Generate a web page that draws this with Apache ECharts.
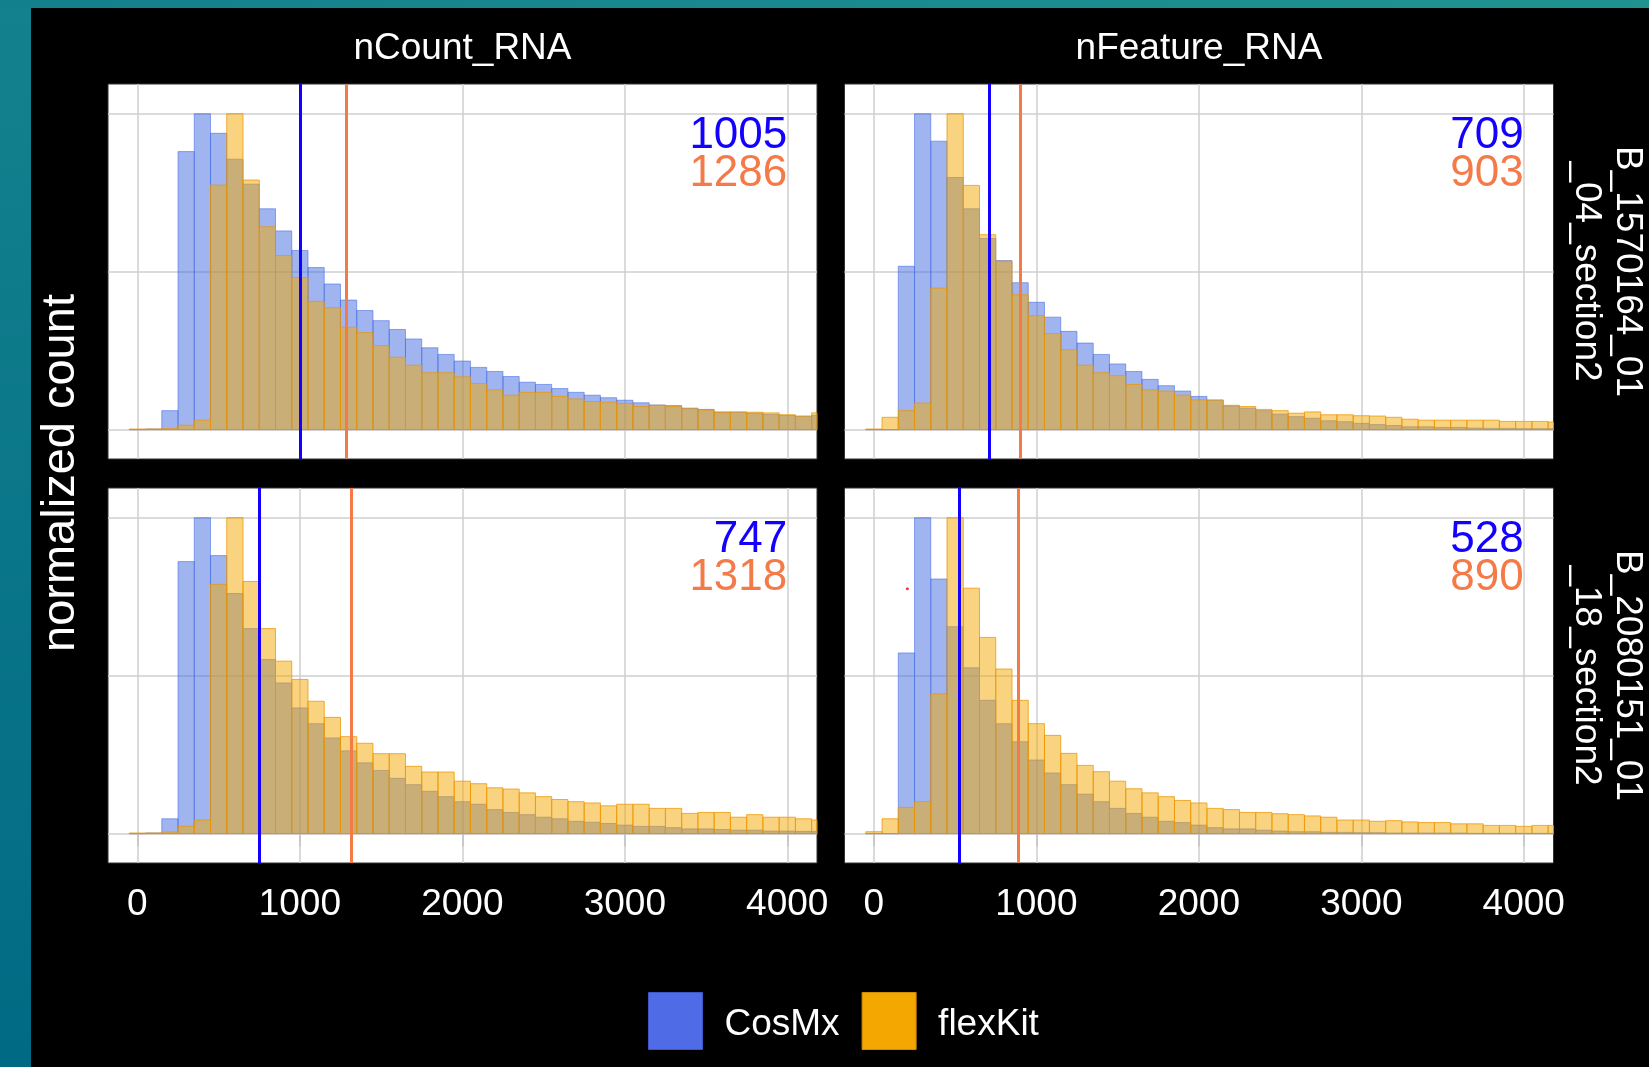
<!DOCTYPE html>
<html>
<head>
<meta charset="utf-8">
<title>nCount / nFeature histograms</title>
<script src="https://cdn.jsdelivr.net/npm/echarts@6/dist/echarts.min.js"></script>
<style>
html, body { margin: 0; padding: 0; background: #000; overflow: hidden; }
#edgeLeft { position: absolute; left: 0; top: 0; width: 31px; height: 1067px;
  background: linear-gradient(to bottom, #14828e, #006a84); }
#edgeTop { position: absolute; left: 0; top: 0; width: 1649px; height: 8px;
  background: linear-gradient(to right, #13808d, #1f9390); }
#main { position: absolute; left: 0; top: 0; width: 1649px; height: 1067px; }
</style>
</head>
<body>
<div id="edgeLeft"></div>
<div id="edgeTop"></div>
<div id="main"></div>
<script>
var chartDom = document.getElementById('main');
var myChart = echarts.init(chartDom);
var option;

// bins of width 100, centred on these values
var binCenters = [0, 100, 200, 300, 400, 500, 600, 700, 800, 900,
  1000, 1100, 1200, 1300, 1400, 1500, 1600, 1700, 1800, 1900,
  2000, 2100, 2200, 2300, 2400, 2500, 2600, 2700, 2800, 2900,
  3000, 3100, 3200, 3300, 3400, 3500, 3600, 3700, 3800, 3900,
  4000, 4100, 4200];
var binWidth = 100;

var metrics = ['nCount_RNA', 'nFeature_RNA'];
var samples = ['B_1570164_01\n_04_section2', 'B_2080151_01\n_18_section2'];
var groups = ['CosMx', 'flexKit'];
var xTicks = [0, 1000, 2000, 3000, 4000];
var yGrid = [0, 0.5, 1];

// B_1570164_01_04_section2
var cosmxCountA = [0, 0.002, 0.060, 0.880, 1.000, 0.938, 0.856, 0.777, 0.699, 0.629,
  0.567, 0.513, 0.461, 0.410, 0.377, 0.345, 0.317, 0.287, 0.259, 0.238,
  0.217, 0.197, 0.184, 0.168, 0.150, 0.143, 0.130, 0.118, 0.109, 0.101,
  0.093, 0.085, 0.078, 0.076, 0.068, 0.064, 0.056, 0.055, 0.052, 0.048,
  0.045, 0.042, 0.045];
var flexCountA = [0.002, 0.002, 0.003, 0.014, 0.030, 0.774, 1.000, 0.790, 0.642, 0.551,
  0.481, 0.406, 0.386, 0.324, 0.307, 0.266, 0.229, 0.204, 0.180, 0.180,
  0.167, 0.146, 0.126, 0.109, 0.118, 0.118, 0.105, 0.097, 0.089, 0.087,
  0.083, 0.073, 0.077, 0.073, 0.066, 0.062, 0.054, 0.056, 0.055, 0.053,
  0.047, 0.043, 0.053];
var cosmxFeatureA = [0, 0, 0.517, 1.000, 0.913, 0.798, 0.699, 0.605, 0.535, 0.465,
  0.403, 0.356, 0.311, 0.274, 0.238, 0.208, 0.184, 0.159, 0.139, 0.122,
  0.105, 0.093, 0.075, 0.068, 0.060, 0.049, 0.041, 0.036, 0.028, 0.025,
  0.020, 0.016, 0.013, 0.009, 0.009, 0.007, 0.007, 0.005, 0.004, 0.004,
  0.003, 0.003, 0.003];
var flexFeatureA = [0.002, 0.039, 0.060, 0.084, 0.448, 1.000, 0.773, 0.617, 0.533, 0.427,
  0.361, 0.304, 0.253, 0.204, 0.180, 0.171, 0.143, 0.126, 0.122, 0.109,
  0.094, 0.094, 0.077, 0.073, 0.064, 0.060, 0.052, 0.056, 0.047, 0.047,
  0.044, 0.043, 0.039, 0.033, 0.030, 0.030, 0.030, 0.030, 0.030, 0.026,
  0.026, 0.026, 0.024];

// B_2080151_01_18_section2
var cosmxCountB = [0, 0.002, 0.047, 0.861, 1.000, 0.880, 0.760, 0.649, 0.551, 0.477,
  0.398, 0.348, 0.303, 0.262, 0.224, 0.200, 0.175, 0.155, 0.134, 0.117,
  0.101, 0.093, 0.076, 0.067, 0.060, 0.052, 0.047, 0.039, 0.036, 0.032,
  0.027, 0.023, 0.023, 0.019, 0.015, 0.015, 0.013, 0.011, 0.011, 0.008,
  0.008, 0.007, 0.007];
var flexCountB = [0.002, 0.002, 0.005, 0.023, 0.043, 0.789, 1.000, 0.798, 0.649, 0.546,
  0.488, 0.419, 0.368, 0.307, 0.286, 0.253, 0.253, 0.213, 0.195, 0.195,
  0.166, 0.158, 0.145, 0.141, 0.129, 0.117, 0.108, 0.101, 0.097, 0.088,
  0.093, 0.093, 0.080, 0.080, 0.064, 0.067, 0.067, 0.052, 0.060, 0.052,
  0.052, 0.047, 0.043];
var cosmxFeatureB = [0, 0, 0.572, 1.000, 0.806, 0.655, 0.525, 0.422, 0.348, 0.291,
  0.233, 0.192, 0.155, 0.125, 0.101, 0.080, 0.064, 0.052, 0.039, 0.035,
  0.027, 0.019, 0.015, 0.015, 0.011, 0.008, 0.006, 0.006, 0.004, 0.004,
  0.003, 0.003, 0.002, 0.002, 0.002, 0.002, 0.002, 0.001, 0.001, 0.001,
  0.001, 0.001, 0.001];
var flexFeatureB = [0.006, 0.047, 0.083, 0.101, 0.442, 1.000, 0.777, 0.621, 0.521, 0.422,
  0.348, 0.311, 0.254, 0.216, 0.196, 0.166, 0.142, 0.129, 0.117, 0.105,
  0.097, 0.080, 0.076, 0.067, 0.067, 0.063, 0.060, 0.056, 0.052, 0.043,
  0.043, 0.039, 0.041, 0.037, 0.035, 0.035, 0.031, 0.031, 0.026, 0.026,
  0.023, 0.026, 0.026];

// medians [CosMx, flexKit]
var medianCountA = [1005, 1286];
var medianFeatureA = [709, 903];
var medianCountB = [747, 1318];
var medianFeatureB = [528, 890];

// the stray red speck in the lower right panel
var strayPoint = [[206, 0.775]];

var FONT = '"Liberation Sans", Arial, sans-serif';
var fillColors = ['rgba(65,105,225,0.5)', 'rgba(244,167,0,0.5)'];
var edgeColors = ['rgba(65,105,225,0.55)', 'rgba(236,150,0,0.75)'];
var medianColors = ['#1400ff', '#f47a48'];

var panels = [
  { row: 0, col: 0, data: [cosmxCountA, flexCountA], med: medianCountA },
  { row: 0, col: 1, data: [cosmxFeatureA, flexFeatureA], med: medianFeatureA },
  { row: 1, col: 0, data: [cosmxCountB, flexCountB], med: medianCountB },
  { row: 1, col: 1, data: [cosmxFeatureB, flexFeatureB], med: medianFeatureB }
];

var panelLeft = [108, 844.5];
var panelTop = [84, 488];
var panelW = 709, panelH = 375;

function histRender(fill, stroke) {
  return function (params, api) {
    var c = api.value(0), h = api.value(1);
    var p0 = api.coord([c - binWidth / 2, h]);
    var p1 = api.coord([c + binWidth / 2, 0]);
    var cs = params.coordSys;
    var shape = echarts.graphic.clipRectByRect(
      { x: p0[0], y: p0[1], width: p1[0] - p0[0], height: p1[1] - p0[1] },
      { x: cs.x, y: cs.y, width: cs.width, height: cs.height }
    );
    return shape && {
      type: 'rect',
      shape: shape,
      style: { fill: fill, stroke: stroke, lineWidth: 1 }
    };
  };
}

function labelRender(params, api) {
  var p = api.coord([api.value(0), api.value(1)]);
  var k = params.dataIndex;
  return {
    type: 'text',
    x: p[0],
    y: p[1],
    style: {
      text: String(api.value(2)),
      fill: medianColors[k],
      font: '44px ' + FONT,
      textAlign: 'right', align: 'right',
      textVerticalAlign: 'middle', verticalAlign: 'middle'
    }
  };
}

var grids = [], xAxes = [], yAxes = [], series = [];

panels.forEach(function (pn, i) {
  grids.push({
    left: panelLeft[pn.col], top: panelTop[pn.row],
    width: panelW, height: panelH,
    show: true, backgroundColor: '#ffffff',
    borderColor: '#333333', borderWidth: 1
  });
  var bottom = pn.row === 1;
  xAxes.push({
    type: 'value', gridIndex: i, min: -181, max: 4183,
    splitLine: { show: false },
    axisLine: { show: false },
    axisTick: {
      show: bottom, length: 13, customValues: xTicks,
      lineStyle: { color: '#b8b8b8', width: 2 }
    },
    axisLabel: {
      show: bottom, customValues: xTicks, margin: 23,
      color: '#ffffff', fontSize: 37, fontFamily: FONT,
      formatter: function (v) { return String(v); }
    }
  });
  yAxes.push({
    type: 'value', gridIndex: i, min: -0.093, max: 1.094, show: false
  });

  var gridLines = xTicks.map(function (v) { return { xAxis: v }; })
    .concat(yGrid.map(function (v) { return { yAxis: v }; }));

  pn.data.forEach(function (vals, g) {
    var s = {
      type: 'custom', name: groups[g],
      xAxisIndex: i, yAxisIndex: i,
      itemStyle: { color: fillColors[g] },
      renderItem: histRender(fillColors[g], edgeColors[g]),
      data: binCenters.map(function (c, j) { return [c, vals[j]]; }),
      z: 2 + g
    };
    if (g === 0) {
      s.markLine = {
        silent: true, symbol: 'none', z: 1, animation: false,
        label: { show: false },
        lineStyle: { color: '#cfcfcf', width: 1.5, type: 'solid' },
        data: gridLines
      };
    } else {
      s.markLine = {
        silent: true, symbol: 'none', z: 6, animation: false,
        label: { show: false },
        data: pn.med.map(function (m, k) {
          return { xAxis: m, lineStyle: { color: medianColors[k], width: 3, type: 'solid' } };
        })
      };
    }
    series.push(s);
  });

  series.push({
    type: 'custom', xAxisIndex: i, yAxisIndex: i, z: 7, silent: true,
    renderItem: labelRender,
    data: [[4000, 0.931, pn.med[0]], [4000, 0.811, pn.med[1]]]
  });
});

series.push({
  type: 'scatter', xAxisIndex: 3, yAxisIndex: 3, z: 8, silent: true,
  symbolSize: 3, itemStyle: { color: '#ff0000' },
  data: strayPoint
});

var textStyle = { fill: '#ffffff', font: '37px ' + FONT,
  textAlign: 'center', align: 'center',
  textVerticalAlign: 'middle', verticalAlign: 'middle' };

var graphics = [];
metrics.forEach(function (m, c) {
  graphics.push({
    type: 'text', x: panelLeft[c] + panelW / 2, y: 49, silent: true,
    style: Object.assign({}, textStyle, { text: m })
  });
});
samples.forEach(function (s, r) {
  graphics.push({
    type: 'text', x: 1607, y: panelTop[r] + panelH / 2, rotation: -Math.PI / 2, silent: true,
    style: Object.assign({}, textStyle, { text: s, lineHeight: 41 })
  });
});
graphics.push({
  type: 'text', x: 61, y: 473, rotation: Math.PI / 2, silent: true,
  style: Object.assign({}, textStyle, { text: 'normalized count', font: '47px ' + FONT })
});

option = {
  backgroundColor: 'transparent',
  animation: false,
  grid: grids,
  xAxis: xAxes,
  yAxis: yAxes,
  legend: {
    left: 648, top: 992, padding: 0,
    itemWidth: 54, itemHeight: 57, itemGap: 22,
    icon: 'rect',
    formatter: '{t|{name}}',
    textStyle: {
      color: '#ffffff', fontSize: 37, fontFamily: FONT,
      rich: { t: { color: '#ffffff', fontSize: 37, fontFamily: FONT, padding: [8, 0, 0, 17] } }
    },
    data: [
      { name: 'CosMx', itemStyle: { color: '#4f6be5', borderColor: '#3d57c8', borderWidth: 1 } },
      { name: 'flexKit', itemStyle: { color: '#f3a700', borderColor: '#d08c00', borderWidth: 1 } }
    ]
  },
  graphic: graphics,
  series: series
};

option && myChart.setOption(option);
</script>
</body>
</html>
